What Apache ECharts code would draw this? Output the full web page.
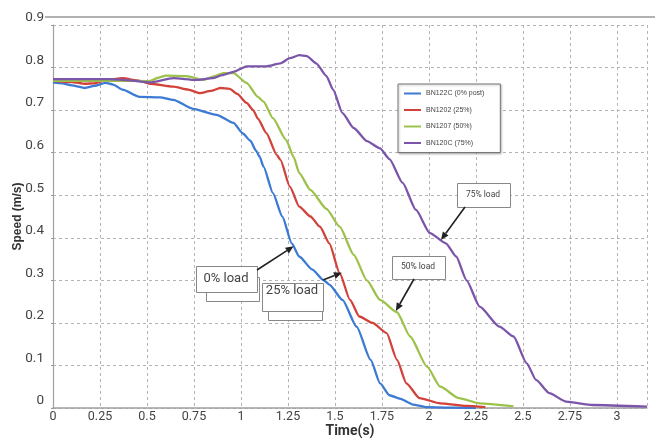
<!DOCTYPE html>
<html>
<head>
<meta charset="utf-8">
<script src="https://cdn.jsdelivr.net/npm/echarts@6/dist/echarts.min.js"></script>
<style>html,body{margin:0;padding:0;background:#fff}#c{width:655px;height:448px}</style>
</head>
<body>
<div id="c"></div>
<script>
// ---- data ----
const seriesNames = ['BN122C (0% post)', 'BN1202 (25%)', 'BN1207 (50%)', 'BN120C (75%)'];

const time0 = [0, 0.05, 0.1, 0.17, 0.22, 0.28, 0.32, 0.37, 0.46, 0.57, 0.64, 0.745, 0.87, 0.96, 1.01, 1.05, 1.08, 1.1, 1.12, 1.17, 1.22, 1.27, 1.31, 1.38, 1.44, 1.47, 1.54, 1.615, 1.69, 1.74, 1.79, 1.845, 1.915, 1.99, 2.1, 2.25];
const speed0 = [0.765, 0.763, 0.758, 0.752, 0.757, 0.764, 0.76, 0.748, 0.731, 0.73, 0.724, 0.703, 0.689, 0.67, 0.645, 0.628, 0.605, 0.59, 0.567, 0.505, 0.45, 0.387, 0.356, 0.325, 0.30, 0.29, 0.254, 0.191, 0.113, 0.058, 0.03, 0.022, 0.008, 0.002, 0.001, 0.0];

const time25 = [0, 0.1, 0.17, 0.22, 0.285, 0.37, 0.45, 0.515, 0.64, 0.72, 0.78, 0.84, 0.89, 0.94, 0.98, 1.03, 1.065, 1.09, 1.135, 1.19, 1.21, 1.26, 1.31, 1.37, 1.42, 1.47, 1.525, 1.58, 1.63, 1.70, 1.775, 1.83, 1.88, 1.95, 2.06, 2.2, 2.3];
const speed25 = [0.769, 0.766, 0.762, 0.763, 0.771, 0.775, 0.77, 0.762, 0.755, 0.748, 0.74, 0.745, 0.752, 0.75, 0.738, 0.717, 0.70, 0.68, 0.646, 0.595, 0.583, 0.52, 0.473, 0.45, 0.426, 0.387, 0.317, 0.254, 0.215, 0.20, 0.176, 0.113, 0.058, 0.023, 0.011, 0.005, 0.002];

const time50 = [0, 0.3, 0.51, 0.56, 0.60, 0.71, 0.80, 0.86, 0.905, 0.96, 1.03, 1.09, 1.12, 1.17, 1.24, 1.28, 1.31, 1.37, 1.455, 1.525, 1.60, 1.67, 1.74, 1.83, 1.90, 1.99, 2.06, 2.16, 2.27, 2.45];
const speed50 = [0.769, 0.769, 0.768, 0.776, 0.781, 0.78, 0.771, 0.78, 0.787, 0.787, 0.764, 0.731, 0.72, 0.681, 0.63, 0.59, 0.552, 0.512, 0.468, 0.426, 0.36, 0.30, 0.254, 0.225, 0.168, 0.097, 0.05, 0.023, 0.011, 0.004];

const time75 = [0, 0.3, 0.4, 0.515, 0.64, 0.76, 0.85, 0.9, 0.96, 1.03, 1.135, 1.21, 1.26, 1.31, 1.35, 1.40, 1.455, 1.49, 1.54, 1.60, 1.67, 1.74, 1.79, 1.86, 1.93, 2.005, 2.09, 2.145, 2.2, 2.27, 2.375, 2.45, 2.52, 2.57, 2.64, 2.73, 2.87, 3.16];
const speed75 = [0.773, 0.773, 0.77, 0.765, 0.775, 0.771, 0.775, 0.782, 0.79, 0.803, 0.803, 0.81, 0.822, 0.829, 0.827, 0.81, 0.78, 0.748, 0.693, 0.658, 0.627, 0.61, 0.585, 0.529, 0.466, 0.411, 0.387, 0.356, 0.30, 0.238, 0.191, 0.168, 0.105, 0.066, 0.035, 0.015, 0.007, 0.003];

const annotationLabels = ['0% load', '25% load', '50% load', '75% load'];
const annotationTips = [[1.28, 0.38], [1.537, 0.318], [1.824, 0.228], [2.064, 0.395]];
// ---------------------------------------

const colors = ['#3d7ad4', '#d2423b', '#9cc24c', '#7a55aa'];
const zip = (t, v) => t.map((x, i) => [x, v[i]]);
const seriesData = [zip(time0, speed0), zip(time25, speed25), zip(time50, speed50), zip(time75, speed75)];
const NARROW = "'Liberation Sans Narrow', 'Arial Narrow', 'Roboto', sans-serif";

const chart = echarts.init(document.getElementById('c'), null, {renderer: 'canvas'});
const gridStyle = {color: '#b4b4b4', width: 1, type: [3, 3]};

chart.setOption({
  animation: false,
  backgroundColor: '#fff',
  color: colors,
  grid: {left: 53, right: 8, top: 25, bottom: 40, containLabel: false, outerBoundsMode: 'none'},
  xAxis: {
    type: 'value', min: 0, max: 3.16, interval: 0.25,
    name: 'Time(s)', nameLocation: 'middle', nameGap: 16, nameMoveOverlap: false,
    nameTextStyle: {fontFamily: NARROW, fontWeight: 'bold', fontSize: 14, color: '#333'},
    axisLine: {show: true, onZero: false, lineStyle: {color: '#a0a0a0', width: 1.5}},
    axisTick: {show: false},
    axisLabel: {fontFamily: NARROW, fontSize: 12.5, color: '#444', margin: 2, showMaxLabel: false},
    splitLine: {show: true, lineStyle: gridStyle}
  },
  yAxis: {
    type: 'value', min: 0, max: 0.9, interval: 0.1,
    name: 'Speed (m/s)', nameLocation: 'middle', nameGap: 29, nameMoveOverlap: false,
    nameTextStyle: {fontFamily: 'Liberation Sans, Arial, sans-serif', fontWeight: 'bold', fontSize: 12, color: '#333'},
    axisLine: {show: true, lineStyle: {color: '#a0a0a0', width: 1.2}},
    axisTick: {show: true, length: 2, lineStyle: {color: '#999'}},
    axisLabel: {fontFamily: NARROW, fontSize: 13.5, color: '#444', margin: 9, verticalAlign: 'bottom'},
    splitLine: {show: true, lineStyle: gridStyle}
  },
  legend: {
    orient: 'vertical', left: 398, top: 84,
    padding: [5, 16, 5, 6], itemGap: 7.5, itemWidth: 17, itemHeight: 2,
    backgroundColor: '#fff', borderColor: '#777', borderWidth: 1,
    shadowColor: 'rgba(0,0,0,0.25)', shadowBlur: 2, shadowOffsetX: 1, shadowOffsetY: 1,
    icon: 'rect',
    textStyle: {fontSize: 7, lineHeight: 9, color: '#444', fontFamily: 'Liberation Sans, Arial, sans-serif'},
    data: seriesNames
  },
  series: seriesNames.map((n, i) => ({
    name: n, type: 'line', data: seriesData[i], showSymbol: false, symbol: 'none',
    smooth: 0.2, smoothMonotone: 'x', lineStyle: {width: 2.3, color: colors[i]}, z: 3
  }))
});

// ---- annotations (boxes, texts, arrows) ----
const boxes = [
  {front: [196, 266, 61, 26], back: [206, 277, 53, 24], text: [226, 279], size: 13},
  {front: [262, 283, 61, 28], back: [268, 300, 54, 20], text: [292, 291], size: 13},
  {front: [392, 256, 53, 23], back: null, text: [418, 267], size: 8.5},
  {front: [457, 183, 53, 24], back: null, text: [483, 195], size: 8.5}
];
const arrowStarts = [[257, 270], [323, 280], [414, 279], [465, 207]];

const g = [];
// top border line
g.push({type: 'line', shape: {x1: 45, y1: 17, x2: 655, y2: 17}, style: {stroke: '#999', lineWidth: 1.5}, z: 50});
boxes.forEach((b, i) => {
  if (b.back) g.push({type: 'rect', shape: {x: b.back[0] + 0.5, y: b.back[1] + 0.5, width: b.back[2], height: b.back[3]}, style: {fill: '#fff', stroke: '#888', lineWidth: 1}, z: 60});
  g.push({type: 'rect', shape: {x: b.front[0] + 0.5, y: b.front[1] + 0.5, width: b.front[2], height: b.front[3]}, style: {fill: '#fff', stroke: '#888', lineWidth: 1}, z: 61});
  g.push({type: 'text', x: b.text[0], y: b.text[1], style: {text: annotationLabels[i], fill: '#444', fontSize: b.size, fontFamily: NARROW, align: 'center', verticalAlign: 'middle'}, z: 62});
  const tip = chart.convertToPixel({gridIndex: 0}, annotationTips[i]);
  const [x1, y1] = arrowStarts[i];
  const [x2, y2] = tip;
  const ang = Math.atan2(y2 - y1, x2 - x1);
  const L = 8, W = 3.5;
  const bx = x2 - L * Math.cos(ang), by = y2 - L * Math.sin(ang);
  g.push({type: 'line', shape: {x1, y1, x2: bx, y2: by}, style: {stroke: '#222', lineWidth: 1.6}, z: 63});
  g.push({type: 'polygon', shape: {points: [[x2, y2], [bx + W * Math.sin(ang), by - W * Math.cos(ang)], [bx - W * Math.sin(ang), by + W * Math.cos(ang)]]}, style: {fill: '#222'}, z: 63});
});
chart.setOption({graphic: g});
</script>
</body>
</html>
